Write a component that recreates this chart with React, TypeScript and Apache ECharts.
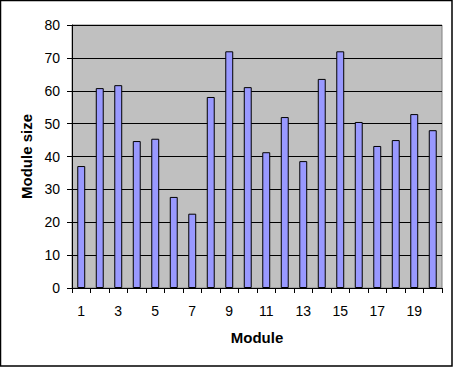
import React, { useEffect, useRef } from "react";
import * as echarts from "echarts";

const categories = ["1","2","3","4","5","6","7","8","9","10","11","12","13","14","15","16","17","18","19","20"];
const moduleSize = [37.1, 60.8, 61.7, 44.7, 45.4, 27.7, 22.6, 58.1, 72.0, 61.1, 41.3, 52.0, 38.6, 63.6, 72.0, 50.5, 43.2, 45.0, 52.9, 48.0];
const yTicks = { min: 0, max: 80, interval: 10 };

export default function App() {
  const ref = useRef<HTMLDivElement>(null);
  useEffect(() => {
    document.body.style.margin = "0";
    const chart = echarts.init(ref.current!, null, { renderer: "svg" });
    const font = "'Liberation Sans', Arial, sans-serif";
    chart.setOption({
      animation: false,
      backgroundColor: "#ffffff",
      textStyle: { fontFamily: font },
      graphic: [
        {
          type: "rect",
          shape: { x: 0.5, y: 0.5, width: 451.5, height: 365.5 },
          style: { fill: "none", stroke: "#000", lineWidth: 1.5 },
          silent: true,
          z: 100,
        },
      ],
      grid: {
        left: 72,
        top: 25,
        right: 13,
        bottom: 81,
        show: true,
        backgroundColor: "#C0C0C0",
        borderColor: "#808080",
        borderWidth: 1,
      },
      xAxis: {
        type: "category",
        data: categories,
        name: "Module",
        nameLocation: "middle",
        nameGap: 42,
        nameTextStyle: { fontFamily: font, fontSize: 15, fontWeight: "bold", color: "#000" },
        axisLine: { show: true, lineStyle: { color: "#000", width: 1 } },
        axisTick: { show: true, interval: 0, alignWithLabel: false, length: 5, lineStyle: { color: "#000" } },
        axisLabel: { interval: 1, color: "#000", fontSize: 14, fontFamily: font, margin: 16 },
        splitLine: { show: false },
      },
      yAxis: {
        type: "value",
        min: yTicks.min,
        max: yTicks.max,
        interval: yTicks.interval,
        name: "Module size",
        nameLocation: "middle",
        nameGap: 38,
        nameRotate: 90,
        nameTextStyle: { fontFamily: font, fontSize: 15, fontWeight: "bold", color: "#000" },
        axisLine: { show: true, lineStyle: { color: "#000", width: 1 } },
        axisTick: { show: true, length: 5, lineStyle: { color: "#000" } },
        axisLabel: { color: "#000", fontSize: 14, fontFamily: font, margin: 12 },
        splitLine: { show: true, lineStyle: { color: "#000", width: 1, type: "solid" } },
      },
      series: [
        {
          type: "bar",
          data: moduleSize,
          barWidth: "43%",
          itemStyle: { color: "#9999FF", borderColor: "#000", borderWidth: 1 },
        },
      ],
    });
    return () => chart.dispose();
  }, []);
  return <div ref={ref} style={{ position: "absolute", left: 0, top: 0, width: 455, height: 369 }} />;
}
